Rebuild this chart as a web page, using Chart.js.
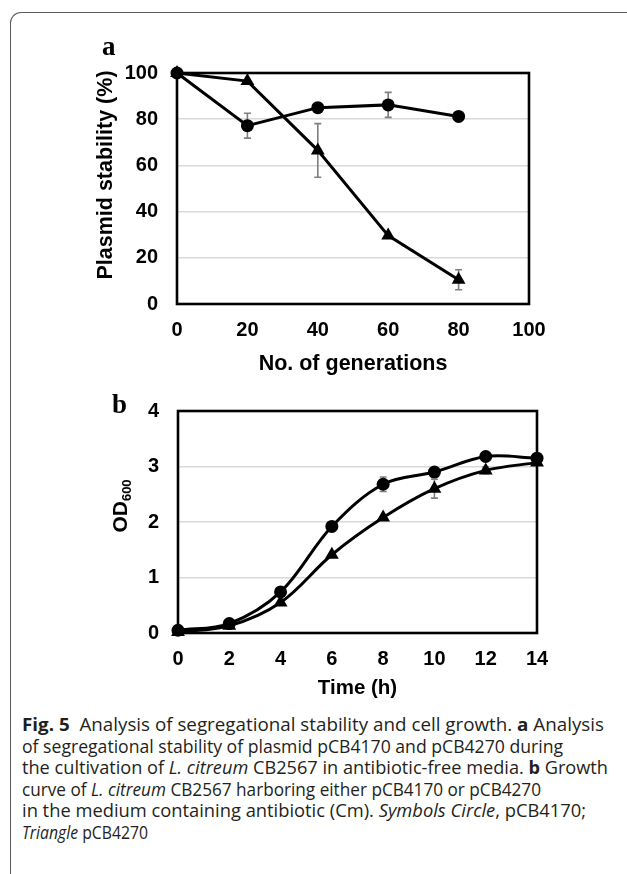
<!DOCTYPE html>
<html><head><meta charset="utf-8">
<script src="https://cdn.jsdelivr.net/npm/chart.js@4/dist/chart.umd.min.js"></script>
<style>
html,body{margin:0;padding:0;background:#fff;width:627px;height:874px;overflow:hidden;position:relative}
#frame{position:absolute;left:10px;top:12px;width:700px;height:900px;border-left:1.3px solid #5a5a5a;border-top:1.3px solid #5a5a5a;border-top-left-radius:11px}
canvas{position:absolute;left:0}
#cA{top:0}
#cB{top:380px}
#caption{position:absolute;left:22px;top:714px;font-family:'Open Sans';font-size:17.5px;line-height:21.6px;color:#231f20;white-space:nowrap}
#caption div{transform-origin:0 0;display:inline-block}
</style></head>
<body>
<div id="frame"></div>
<canvas id="cA" width="627" height="380"></canvas>
<canvas id="cB" width="627" height="330"></canvas>
<div id="caption">
<div><b>Fig. 5</b>&nbsp; Analysis of segregational stability and cell growth. <b>a</b> Analysis</div><br>
<div>of segregational stability of plasmid pCB4170 and pCB4270 during</div><br>
<div>the cultivation of <i>L. citreum</i> CB2567 in antibiotic-free media. <b>b</b> Growth</div><br>
<div>curve of <i>L. citreum</i> CB2567 harboring either pCB4170 or pCB4270</div><br>
<div>in the medium containing antibiotic (Cm). <i>Symbols Circle</i>, pCB4170;</div><br>
<div><i>Triangle</i> pCB4270</div>
</div>
<script>
// ---- Panel a: plasmid stability ----
const generations = [0, 20, 40, 60, 80];
const circleStability = [100, 77.2, 85, 86.2, 81.2];
const circleStabilityErr = [0, 5.4, 0, 5.4, 0];
const triangleStability = [100, 96.5, 66.5, 29.6, 10.5];
const triangleStabilityErr = [0, 0, 11.6, 0, 4.3];
const genTicks = [0, 20, 40, 60, 80, 100];
const stabilityTicks = [0, 20, 40, 60, 80, 100];

// ---- Panel b: growth curve ----
const hours = [0, 2, 4, 6, 8, 10, 12, 14];
const circleOD = [0.05, 0.17, 0.74, 1.92, 2.68, 2.9, 3.18, 3.15];
const circleODErr = [0, 0, 0, 0, 0.13, 0.05, 0.05, 0];
const triangleOD = [0.02, 0.13, 0.55, 1.41, 2.08, 2.6, 2.93, 3.07];
const triangleODErr = [0, 0, 0, 0, 0, 0.17, 0.06, 0];
const hourTicks = [0, 2, 4, 6, 8, 10, 12, 14];
const odTicks = [0, 1, 2, 3, 4];

// caption line widths (layout)
const captionWidths = [582, 541, 586, 519, 564, 126];
document.querySelectorAll('#caption div').forEach((d, i) => {
  const w = d.getBoundingClientRect().width;
  d.style.transform = 'scaleX(' + (captionWidths[i] / w) + ')';
});

const FONT = 'Liberation Sans, Arial, sans-serif';
Chart.defaults.font.family = FONT;
Chart.defaults.color = '#000';

function pts(xs, ys){ return xs.map((x,i)=>({x:x, y:ys[i]})); }

const boxAndErrors = {
  id: 'boxAndErrors',
  beforeDatasetsDraw(chart){
    const ctx = chart.ctx, a = chart.chartArea;
    ctx.save();
    ctx.strokeStyle = '#000'; ctx.lineWidth = 2.6;
    ctx.strokeRect(a.left, a.top, a.right - a.left, a.bottom - a.top);
    ctx.restore();
    const xs = chart.scales.x, ys = chart.scales.y;
    chart.data.datasets.forEach(ds => {
      if (!ds.errors) return;
      ctx.save();
      ctx.strokeStyle = '#7f7f7f'; ctx.lineWidth = 1.6;
      ds.data.forEach((p, j) => {
        const e = ds.errors[j]; if (!e) return;
        const x = xs.getPixelForValue(p.x);
        const y1 = ys.getPixelForValue(p.y + e), y2 = ys.getPixelForValue(p.y - e);
        ctx.beginPath();
        ctx.moveTo(x, y1); ctx.lineTo(x, y2);
        ctx.moveTo(x - 3.5, y1); ctx.lineTo(x + 3.5, y1);
        ctx.moveTo(x - 3.5, y2); ctx.lineTo(x + 3.5, y2);
        ctx.stroke();
      });
      ctx.restore();
    });
  }
};

function lineDs(data, errs, style, tension){
  return {
    data: data, errors: errs,
    borderColor: '#000', backgroundColor: '#000', borderWidth: 3,
    pointStyle: style, pointRadius: style === 'triangle' ? 8 : 6.5,
    pointBackgroundColor: '#000', pointBorderColor: '#000', pointBorderWidth: 0,
    tension: tension, clip: false, fill: false
  };
}

function yScale(min, max, ticksArr, width){
  return {
    type: 'linear', min: min, max: max,
    afterBuildTicks: s => { s.ticks = ticksArr.map(v => ({value: v})); },
    ticks: {font: {size: 20, weight: 'bold'}, padding: 19, color: '#000'},
    grid: {drawTicks: false, lineWidth: 1.6,
      color: c => (c.tick && (c.tick.value === min || c.tick.value === max)) ? 'rgba(0,0,0,0)' : '#d9d9d9'},
    border: {display: false},
    afterFit: s => { s.width = width; }
  };
}
function xScale(min, max, ticksArr, height){
  return {
    type: 'linear', min: min, max: max,
    afterBuildTicks: s => { s.ticks = ticksArr.map(v => ({value: v})); },
    ticks: {font: {size: 20, weight: 'bold'}, padding: 14, color: '#000', maxRotation: 0},
    grid: {display: false, drawTicks: false},
    border: {display: false},
    afterFit: s => { s.height = height; }
  };
}

// Chart a
new Chart(document.getElementById('cA'), {
  type: 'line',
  data: {datasets: [
    lineDs(pts(generations, circleStability), circleStabilityErr, 'circle', 0),
    lineDs(pts(generations, triangleStability), triangleStabilityErr, 'triangle', 0)
  ]},
  options: {
    responsive: false, animation: false, devicePixelRatio: 1,
    layout: {padding: {left: 0, right: 98, top: 73, bottom: 0}},
    plugins: {legend: {display: false}, tooltip: {enabled: false}},
    scales: {x: xScale(0, 100, genTicks, 76), y: yScale(0, 100, stabilityTicks, 177)}
  },
  plugins: [boxAndErrors, {
    id: 'textA',
    afterDraw(chart){
      const ctx = chart.ctx, a = chart.chartArea;
      ctx.save();
      ctx.fillStyle = '#000';
      ctx.font = 'bold 21.5px ' + FONT;
      ctx.textAlign = 'center'; ctx.textBaseline = 'middle';
      ctx.fillText('No. of generations', (a.left + a.right) / 2, a.bottom + 60);
      ctx.save();
      ctx.translate(a.left - 71, a.top + 102);
      ctx.rotate(-Math.PI / 2);
      ctx.fillText('Plasmid stability (%)', 0, 0);
      ctx.restore();
      ctx.font = 'bold 27px Liberation Serif, Times New Roman, serif';
      ctx.textAlign = 'left'; ctx.textBaseline = 'alphabetic';
      ctx.fillText('a', 102, 55);
      ctx.restore();
    }
  }]
});

// Chart b
new Chart(document.getElementById('cB'), {
  type: 'line',
  data: {datasets: [
    lineDs(pts(hours, circleOD), circleODErr, 'circle', 0.35),
    lineDs(pts(hours, triangleOD), triangleODErr, 'triangle', 0.35)
  ]},
  options: {
    responsive: false, animation: false, devicePixelRatio: 1,
    layout: {padding: {left: 0, right: 90, top: 22, bottom: 0}},
    plugins: {legend: {display: false}, tooltip: {enabled: false}},
    scales: {x: xScale(0, 14, hourTicks, 77), y: yScale(0, 4, odTicks, 178)}
  },
  plugins: [boxAndErrors, {
    id: 'textB',
    afterDraw(chart){
      const ctx = chart.ctx, a = chart.chartArea;
      ctx.save();
      ctx.fillStyle = '#000';
      ctx.font = 'bold 20.5px ' + FONT;
      ctx.textAlign = 'center'; ctx.textBaseline = 'middle';
      ctx.fillText('Time (h)', (a.left + a.right) / 2, a.bottom + 55);
      // OD600 rotated with subscript
      ctx.save();
      ctx.translate(a.left - 59, a.top + 95);
      ctx.rotate(-Math.PI / 2);
      ctx.textAlign = 'left'; ctx.textBaseline = 'alphabetic';
      ctx.font = 'bold 21px ' + FONT;
      const wOD = ctx.measureText('OD').width;
      ctx.font = 'bold 13px ' + FONT;
      const w6 = ctx.measureText('600').width;
      const x0 = -(wOD + w6) / 2;
      ctx.font = 'bold 21px ' + FONT;
      ctx.fillText('OD', x0, 7.5);
      ctx.font = 'bold 13px ' + FONT;
      ctx.fillText('600', x0 + wOD, 12);
      ctx.restore();
      ctx.font = 'bold 27px Liberation Serif, Times New Roman, serif';
      ctx.textAlign = 'left'; ctx.textBaseline = 'alphabetic';
      ctx.fillText('b', 112, 33);
      ctx.restore();
    }
  }]
});
</script>
</body></html>
